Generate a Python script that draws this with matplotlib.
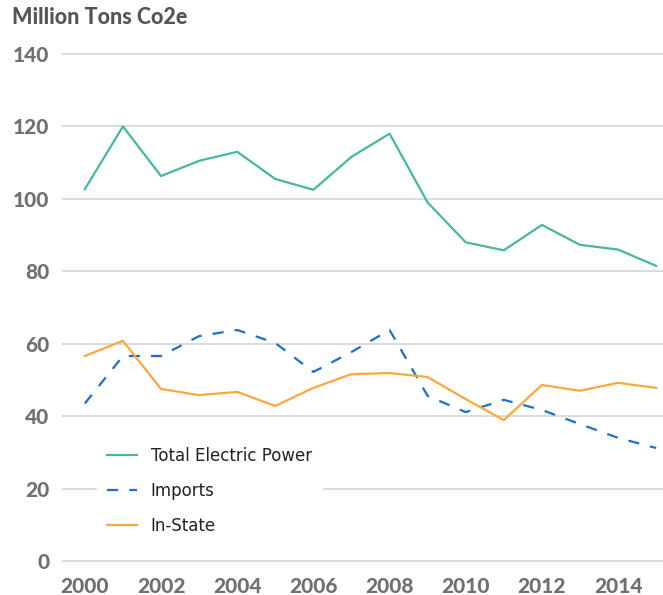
import matplotlib.pyplot as plt

years = list(range(2000, 2016))
total_power = [102.7, 120.0, 106.3, 110.5, 113.0, 105.5, 102.5, 111.6,
               118.0, 99.0, 88.0, 85.8, 92.8, 87.3, 86.0, 81.5]
imports = [43.5, 56.6, 56.6, 62.1, 63.8, 60.2, 52.2, 57.7,
           63.8, 45.6, 41.1, 44.5, 41.7, 37.8, 34.0, 31.2]
in_state = [56.6, 60.8, 47.5, 45.8, 46.7, 42.8, 47.8, 51.6,
            51.9, 50.8, 44.7, 38.9, 48.6, 47.0, 49.2, 47.8]
yticks = [0, 20, 40, 60, 80, 100, 120, 140]
xticks = [2000, 2002, 2004, 2006, 2008, 2010, 2012, 2014]

plt.rcParams['font.family'] = ['Lato', 'DejaVu Sans']

fig = plt.figure(figsize=(6.63, 5.95), dpi=100)
ax = fig.add_axes([62 / 663, 0.0511, 1 - 62 / 663, 0.8642])

ax.plot(years, total_power, color='#45b8a0', lw=1.6, label='Total Electric Power')
ax.plot(years, imports, color='#1f6fc5', lw=1.6, ls=(0, (5, 5)), label='Imports')
ax.plot(years, in_state, color='#f9a73e', lw=1.6, label='In-State')

ax.set_xlim(1999.4, 2015.18)
ax.set_ylim(-1, 141)
ax.set_yticks(yticks)
ax.set_xticks(xticks)
ax.grid(axis='y', color='#d4d4d4', lw=1.2)
ax.set_axisbelow(True)
for s in ax.spines.values():
    s.set_visible(False)
ax.tick_params(length=0)
ax.tick_params(axis='y', pad=9)
ax.tick_params(axis='x', pad=9)
for lab in ax.get_yticklabels() + ax.get_xticklabels():
    lab.set_fontsize(15)
    lab.set_fontweight('black')
    lab.set_color('#707070')

fig.text(12 / 663, 1 - 18 / 595, 'Million Tons Co2e', fontsize=15.5,
         fontweight='black', color='#555555', va='center', ha='left')

leg = ax.legend(loc='lower left', bbox_to_anchor=(0.045, 0.022), frameon=True,
                prop={'family': 'DejaVu Sans', 'size': 12},
                handlelength=1.8, handletextpad=0.8,
                labelspacing=1.02, borderpad=0.6)
leg.get_frame().set_facecolor('white')
leg.get_frame().set_edgecolor('white')
leg.get_frame().set_alpha(1)
for t in leg.get_texts():
    t.set_color('#222222')

fig.savefig('out.png', dpi=100)
